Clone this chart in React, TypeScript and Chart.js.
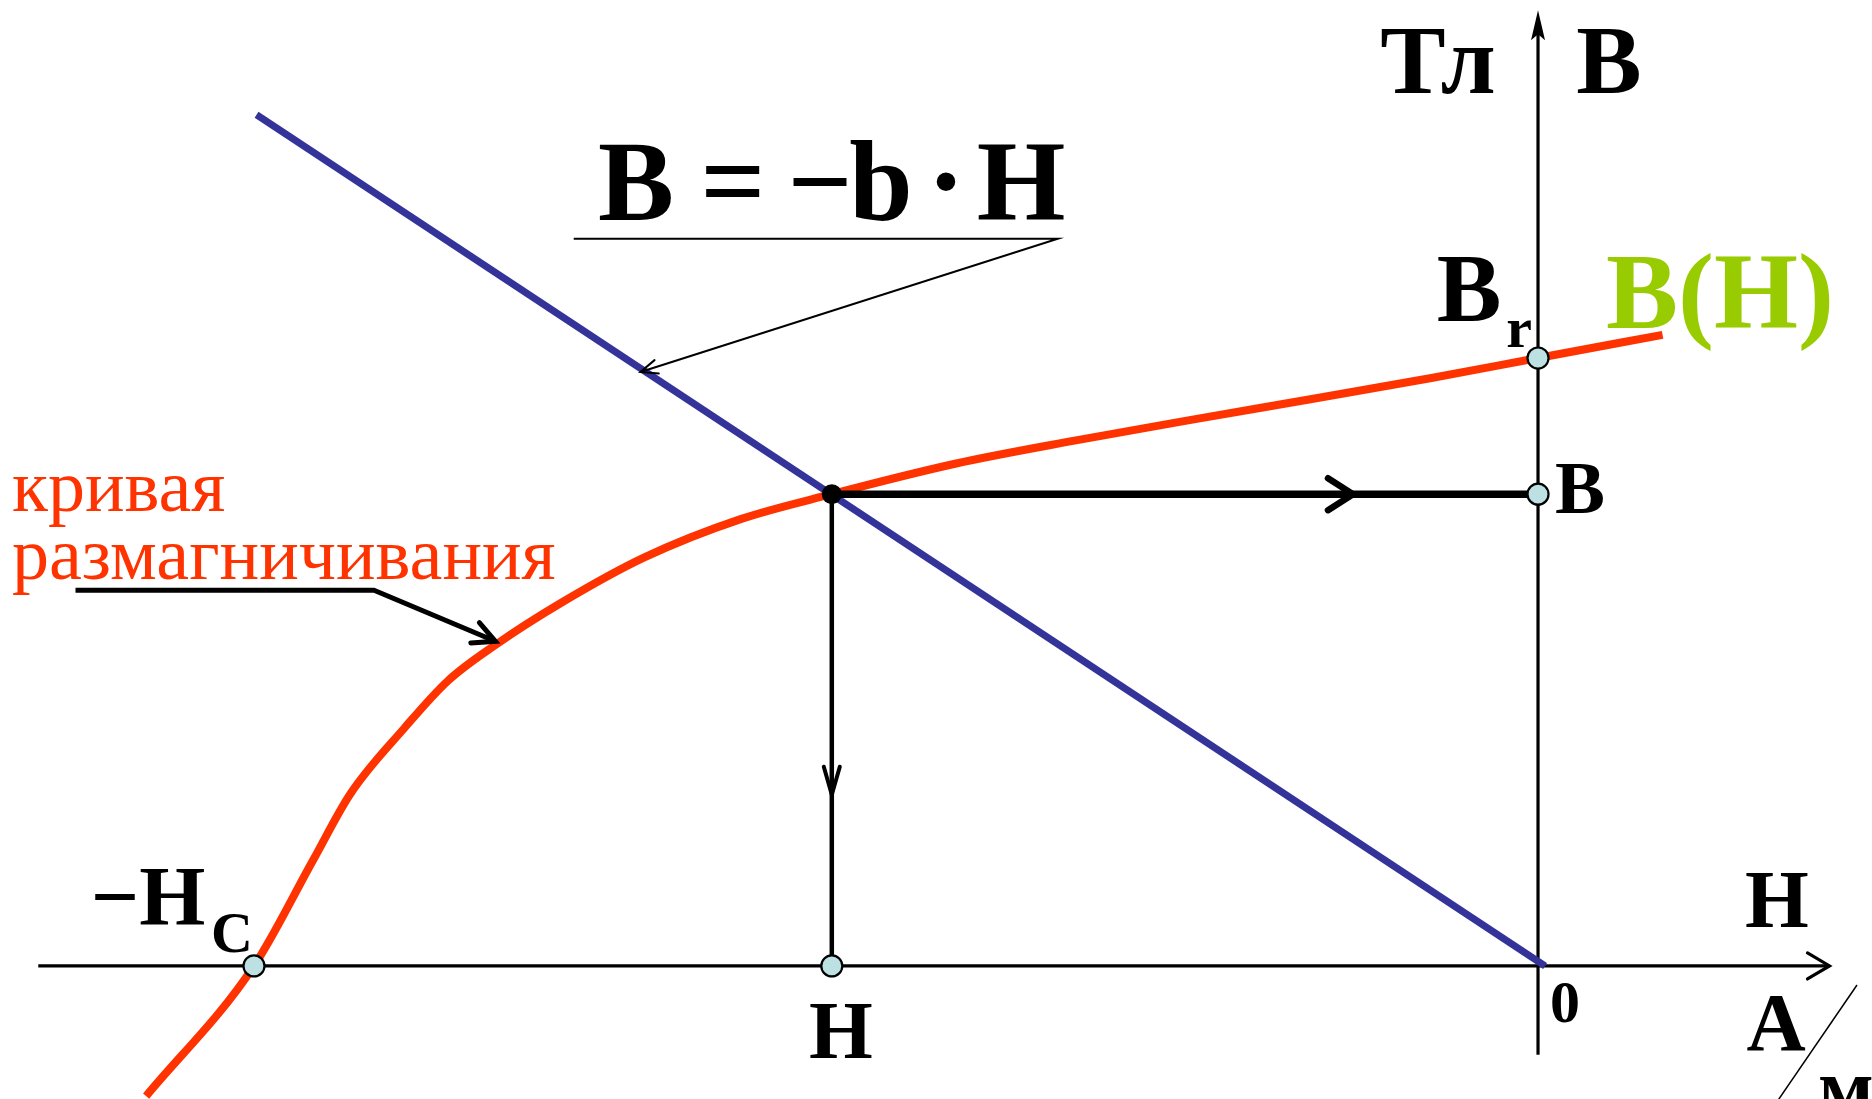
import React, { useEffect, useRef } from "react";
import { Chart, registerables } from "chart.js";

Chart.register(...registerables);

// Demagnetisation curve B(H) (H in arbitrary units with Hc = 100, B in units of Br)
const demagH = [-108.4, -100, -95.4, -92.5, -88.3, -84.9, -81.2, -76.1, -69.6, -62.1, -55.0, -45.4, -36.1, -26.8, -17.5, -8.3, 0, 9.7];
const demagB = [-0.214, 0, 0.174, 0.283, 0.391, 0.469, 0.528, 0.597, 0.672, 0.735, 0.776, 0.826, 0.864, 0.899, 0.933, 0.967, 1.0, 1.038];

// Load line B = -b·H
const loadLineH = [-99.8, 0.55];
const loadLineB = [1.4, 0];

// Operating point
const opH = -55.0;
const opB = 0.776;

// Characteristic points
const coerciveH = -100;
const remanentB = 1.0;

// Axis extents
const axisXH = [-116.8, 22.7];
const axisYB = [-0.146, 1.572];

// Plot window
const rangeH = [-119.78, 26.01];
const rangeB = [-0.2188, 1.5888];

// Leader lines (data coordinates)
const formulaLeaderH = [-75.1, -37.4, -69.9];
const formulaLeaderB = [1.196, 1.196, 0.977];
const curveLeaderH = [-113.9, -90.65, -81.2];
const curveLeaderB = [0.618, 0.618, 0.534];

const RED = "#ff3300";
const BLUE = "#333399";
const GREEN = "#99cc00";
const MARK = "#bde0e3";
const SERIF = '"Liberation Serif", "Times New Roman", Times, serif';

function pts(hs: number[], bs: number[]) {
  return hs.map((h, i) => ({ x: h, y: bs[i] }));
}

function chevron(ctx: CanvasRenderingContext2D, tx: number, ty: number, ang: number, len: number, half: number, width: number) {
  const dx = Math.cos(ang), dy = Math.sin(ang);
  const bx = tx - dx * len, by = ty - dy * len;
  const nx = -dy, ny = dx;
  ctx.save();
  ctx.strokeStyle = "#000";
  ctx.lineWidth = width;
  ctx.lineCap = "round";
  ctx.lineJoin = "miter";
  ctx.beginPath();
  ctx.moveTo(bx + nx * half, by + ny * half);
  ctx.lineTo(tx, ty);
  ctx.lineTo(bx - nx * half, by - ny * half);
  ctx.stroke();
  ctx.restore();
}

function seg(ctx: CanvasRenderingContext2D, x1: number, y1: number, x2: number, y2: number, width: number) {
  ctx.save();
  ctx.strokeStyle = "#000";
  ctx.lineWidth = width;
  ctx.beginPath();
  ctx.moveTo(x1, y1);
  ctx.lineTo(x2, y2);
  ctx.stroke();
  ctx.restore();
}

function text(ctx: CanvasRenderingContext2D, s: string, x: number, y: number, size: number, color = "#000", bold = true, align: CanvasTextAlign = "center") {
  ctx.save();
  ctx.font = `${bold ? "bold " : ""}${size}px ${SERIF}`;
  ctx.fillStyle = color;
  ctx.textAlign = align;
  ctx.textBaseline = "alphabetic";
  ctx.fillText(s, x, y);
  ctx.restore();
}

function lineSet(label: string, data: { x: number; y: number }[], color: string, width: number, extra: any = {}) {
  return {
    label,
    data,
    borderColor: color,
    backgroundColor: color,
    borderWidth: width,
    pointRadius: 0,
    pointHoverRadius: 0,
    fill: false,
    ...extra,
  };
}

// axes drawn beneath the datasets
const axesPlugin = {
  id: "axesPlugin",
  beforeDatasetsDraw(chart: any) {
    const ctx: CanvasRenderingContext2D = chart.ctx;
    const xs = chart.scales.x;
    const ys = chart.scales.y;
    seg(ctx, xs.getPixelForValue(axisXH[0]), ys.getPixelForValue(0), xs.getPixelForValue(axisXH[1]), ys.getPixelForValue(0), 3.2);
    seg(ctx, xs.getPixelForValue(0), ys.getPixelForValue(axisYB[0]), xs.getPixelForValue(0), ys.getPixelForValue(axisYB[1]) + 10, 3.2);
  },
};

const overlay = {
  id: "overlay",
  afterDatasetsDraw(chart: any) {
    const ctx: CanvasRenderingContext2D = chart.ctx;
    const xs = chart.scales.x;
    const ys = chart.scales.y;
    const px = (h: number) => xs.getPixelForValue(h);
    const py = (b: number) => ys.getPixelForValue(b);

    // y-axis arrow head (filled)
    {
      const tx = px(0), ty = py(axisYB[1]);
      ctx.save();
      ctx.fillStyle = "#000";
      ctx.beginPath();
      ctx.moveTo(tx, ty);
      ctx.lineTo(tx - 7, ty + 30);
      ctx.lineTo(tx, ty + 24);
      ctx.lineTo(tx + 7, ty + 30);
      ctx.closePath();
      ctx.fill();
      ctx.restore();
    }
    // x-axis chevron
    chevron(ctx, px(axisXH[1]), py(0), 0, 22, 13, 3.2);

    // projection arrows
    chevron(ctx, px(opH + 0.738 * (0 - opH)), py(opB), 0, 25, 16, 6.5);
    chevron(ctx, px(opH), py(opB * (1 - 0.637)), Math.PI / 2, 28, 8, 4);

    // formula leader
    {
      ctx.save();
      ctx.strokeStyle = "#000";
      ctx.lineWidth = 2;
      ctx.beginPath();
      formulaLeaderH.forEach((h, i) => {
        const X = px(h), Y = py(formulaLeaderB[i]);
        if (i === 0) ctx.moveTo(X, Y); else ctx.lineTo(X, Y);
      });
      ctx.stroke();
      ctx.restore();
      const x1 = px(formulaLeaderH[1]), y1 = py(formulaLeaderB[1]);
      const x2 = px(formulaLeaderH[2]), y2 = py(formulaLeaderB[2]);
      chevron(ctx, x2, y2, Math.atan2(y2 - y1, x2 - x1), 17, 7, 2);
    }
    // curve leader
    {
      ctx.save();
      ctx.strokeStyle = "#000";
      ctx.lineWidth = 5;
      ctx.lineJoin = "round";
      ctx.beginPath();
      curveLeaderH.forEach((h, i) => {
        const X = px(h), Y = py(curveLeaderB[i]);
        if (i === 0) ctx.moveTo(X, Y); else ctx.lineTo(X, Y);
      });
      ctx.stroke();
      ctx.restore();
      const x1 = px(curveLeaderH[1]), y1 = py(curveLeaderB[1]);
      const x2 = px(curveLeaderH[2]), y2 = py(curveLeaderB[2]);
      chevron(ctx, x2, y2, Math.atan2(y2 - y1, x2 - x1), 22, 11, 5);
    }

    // unit slash A/м
    seg(ctx, 1857, 985, 1770, 1112, 1.5);

    // labels
    text(ctx, "Тл", 1438, 93, 98);
    text(ctx, "B", 1609, 93, 98);

    text(ctx, "B", 636, 220, 114);
    text(ctx, "=", 733, 220, 114);
    text(ctx, "\u2212", 820, 220, 114);
    text(ctx, "b", 881, 220, 114);
    text(ctx, "\u00b7", 946, 220, 114);
    text(ctx, "H", 1021, 220, 114);

    text(ctx, "B(H)", 1720, 328, 108, GREEN);
    text(ctx, "B", 1469, 321, 97);
    text(ctx, "r", 1519, 347, 58);

    text(ctx, "B", 1580, 513, 75);
    text(ctx, "H", 841, 1058, 82);
    text(ctx, "H", 1777, 927, 82);
    text(ctx, "0", 1565, 1022, 60);
    text(ctx, "A", 1776, 1050, 82);
    text(ctx, "м", 1846, 1115, 82);

    text(ctx, "\u2212H", 148, 925, 85);
    text(ctx, "C", 232, 952, 58);

    text(ctx, "кривая", 12, 511, 74, RED, false, "left");
    text(ctx, "размагничивания", 12, 579, 74, RED, false, "left");
  },
};

export default function App() {
  const ref = useRef<HTMLCanvasElement | null>(null);

  useEffect(() => {
    if (!ref.current) return;
    const chart = new Chart(ref.current, {
      type: "line",
      data: {
        datasets: [
          {
            label: "op",
            data: [{ x: opH, y: opB }],
            pointRadius: 10,
            pointBorderWidth: 0,
            pointBackgroundColor: "#000",
            pointBorderColor: "#000",
            showLine: false,
          },
          {
            label: "markers",
            data: [
              { x: 0, y: remanentB },
              { x: 0, y: opB },
              { x: opH, y: 0 },
              { x: coerciveH, y: 0 },
            ],
            pointRadius: 10.5,
            pointBorderWidth: 2.2,
            pointBackgroundColor: MARK,
            pointBorderColor: "#000",
            showLine: false,
          },
          lineSet("projB", [{ x: opH, y: opB }, { x: 0, y: opB }], "#000", 7.5),
          lineSet("projH", [{ x: opH, y: opB }, { x: opH, y: 0 }], "#000", 4.5),
          lineSet("load line", pts(loadLineH, loadLineB), BLUE, 7),
          lineSet("B(H)", pts(demagH, demagB), RED, 8, { cubicInterpolationMode: "monotone" }),
        ],
      },
      options: {
        animation: false,
        responsive: false,
        maintainAspectRatio: false,
        layout: { padding: 0, autoPadding: false },
        clip: false,
        plugins: { legend: { display: false }, tooltip: { enabled: false } },
        scales: {
          x: { type: "linear", min: rangeH[0], max: rangeH[1], display: false },
          y: { type: "linear", min: rangeB[0], max: rangeB[1], display: false },
        },
      } as any,
      plugins: [axesPlugin, overlay],
    });
    return () => chart.destroy();
  }, []);

  return (
    <div style={{ position: "fixed", left: 0, top: 0, width: 1872, height: 1099, background: "#fff" }}>
      <canvas ref={ref} width={1872} height={1099} style={{ width: 1872, height: 1099, display: "block" }} />
    </div>
  );
}
